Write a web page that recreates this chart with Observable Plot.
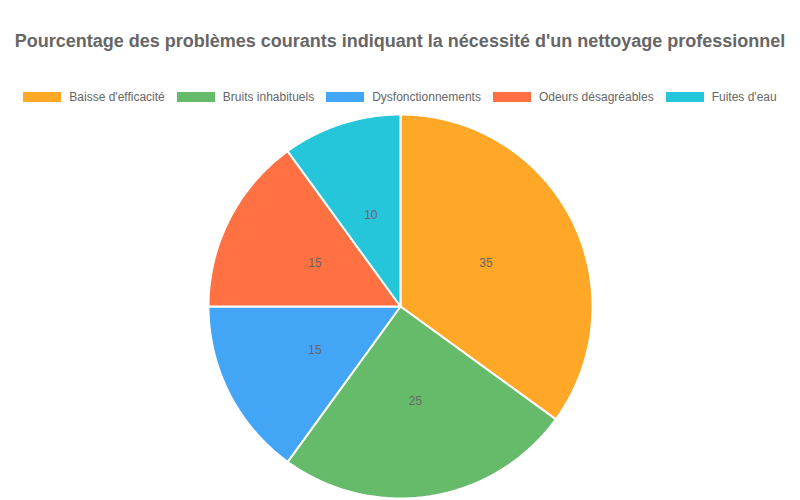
<!DOCTYPE html>
<html><head><meta charset="utf-8">
<script src="https://cdn.jsdelivr.net/npm/d3@7"></script>
<script src="https://cdn.jsdelivr.net/npm/@observablehq/plot@0.6"></script>
<style>
body{margin:0;background:#fff;font-family:"Liberation Sans",Arial,sans-serif;}
#wrap{width:800px;height:500px;overflow:hidden;}
#title{height:82px;line-height:82px;text-align:center;font-size:18px;font-weight:bold;color:#666;}
#legend{height:20px;padding-top:8px;display:flex;justify-content:center;align-items:flex-start;font-size:12px;color:#666;}
.item{display:flex;align-items:center;margin:0 6px;line-height:14px;}
.sw{width:38px;height:10px;margin-right:8px;display:inline-block;}
</style></head><body>
<div id="wrap">
<div id="title">Pourcentage des problèmes courants indiquant la nécessité d'un nettoyage professionnel</div>
<div id="legend"></div>
<div id="chart"></div>
</div>
<script>
const categories = ["Baisse d'efficacité","Bruits inhabituels","Dysfonctionnements","Odeurs désagréables","Fuites d'eau"];
const values = [35,25,15,15,10];
const colors = ["#FFA726","#66BB6A","#42A5F5","#FF7043","#26C6DA"];

const leg = document.getElementById("legend");
categories.forEach((c,i)=>{
  const d=document.createElement("div");d.className="item";
  d.innerHTML=`<span class="sw" style="background:${colors[i]}"></span>${c}`;
  leg.appendChild(d);
});

const pieData = categories.map((c,i)=>({cat:c,value:values[i]}));
const arcs = d3.pie().sort(null).value(d=>d.value)(pieData);
const pts=[];
arcs.forEach(a=>{
  pts.push({cat:a.data.cat,x:0,y:0});
  const n=Math.max(2,Math.ceil((a.endAngle-a.startAngle)/0.01));
  for(let k=0;k<=n;k++){
    const t=a.startAngle+(a.endAngle-a.startAngle)*k/n;
    pts.push({cat:a.data.cat,x:Math.sin(t),y:Math.cos(t)});
  }
  pts.push({cat:a.data.cat,x:0,y:0});
});
const labels = arcs.map(a=>{const m=(a.startAngle+a.endAngle)/2;return {cat:a.data.cat,v:a.data.value,x:0.5*Math.sin(m),y:0.5*Math.cos(m)};});

const R=192, cx=400, cy=196;
const chart = Plot.plot({
  width:800,height:390,margin:0,
  x:{domain:[-1,1],range:[cx-R,cx+R],axis:null},
  y:{domain:[-1,1],range:[cy+R,cy-R],axis:null},
  color:{domain:categories,range:colors},
  style:{fontFamily:"Liberation Sans, Arial, sans-serif",background:"transparent"},
  marks:[
    Plot.line(pts,{x:"x",y:"y",z:"cat",fill:"cat",stroke:"#fff",strokeWidth:2,strokeLinejoin:"round",curve:"linear"}),
    Plot.text(labels,{x:"x",y:"y",text:"v",fill:"#666",fontSize:12})
  ]
});
document.getElementById("chart").appendChild(chart);
</script>
</body></html>
